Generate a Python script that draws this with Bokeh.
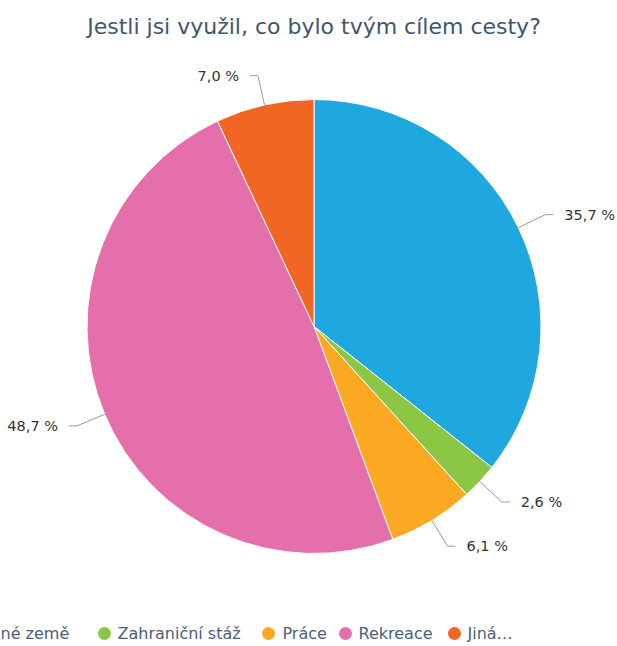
import numpy as np
from bokeh.plotting import figure
from bokeh.models import Range1d, ColumnDataSource
from bokeh.core.properties import value
from bokeh.embed import file_html
from bokeh.resources import INLINE

# ---- data ----
title = "Jestli jsi využil, co bylo tvým cílem cesty?"
categories = ["né země", "Zahraniční stáž", "Práce", "Rekreace", "Jiná…"]
values = [35.7, 2.6, 6.1, 48.7, 7.0]
colors = ["#1fa7e0", "#8bc644", "#fba922", "#e46fab", "#f26624"]

# ---- layout constants (pixels) ----
W, H = 617, 646
CX, CY = 313.5, 320.0
R = 227.0
LABEL_DIST = 30.0
FONT = "DejaVu Sans"

p = figure(width=W, height=H, output_backend="svg", toolbar_location=None,
           x_range=Range1d(0, W), y_range=Range1d(0, H),
           min_border=0, min_border_left=0, min_border_right=0,
           min_border_top=0, min_border_bottom=0)
p.axis.visible = False
p.grid.visible = False
p.outline_line_color = None
p.background_fill_color = "white"
p.border_fill_color = "white"

vals = np.array(values, dtype=float)
frac = vals / vals.sum()
cum_end = np.cumsum(frac)
cum_start = cum_end - frac

src = ColumnDataSource(dict(
    start=np.pi / 2 - 2 * np.pi * cum_end,
    end=np.pi / 2 - 2 * np.pi * cum_start,
    color=colors,
))
p.wedge(x=CX, y=CY, radius=R, start_angle="start", end_angle="end",
        direction="anticlock", fill_color="color", line_color="white",
        line_width=1, source=src)

# ---- data labels with connectors ----
mid = 2 * np.pi * (cum_start + frac / 2)  # clockwise from top
for i, th in enumerate(mid):
    s = 1 if np.sin(th) >= 0 else -1
    ex, ey = CX + R * np.sin(th), CY + R * np.cos(th)
    ax, ay = CX + (R + LABEL_DIST) * np.sin(th), CY + (R + LABEL_DIST) * np.cos(th)
    p.line([ex, ax, ax + s * 8], [ey, ay, ay], line_color="#9a9a9a", line_width=1)
    lab = f"{values[i]:.1f}".replace(".", ",") + " %"
    p.text(x=[ax + s * 19], y=[ay], text=[lab],
           text_font=value(FONT), text_font_size="14.5px", text_color="#333333",
           text_align="left" if s > 0 else "right", text_baseline="middle")

# ---- title ----
p.text(x=[CX], y=[H - 26], text=[title], text_font=value(FONT),
       text_font_size="22px", text_color="#3e576f",
       text_align="center", text_baseline="middle")

# ---- legend (bottom, first item cut off on the left) ----
LEG_Y = 13
dot_x = [None, 104, 268, 345, 454]
txt_x = [0, 117, 282, 358, 467]
for i, cat in enumerate(categories):
    if dot_x[i] is not None:
        p.scatter(x=[dot_x[i]], y=[LEG_Y], size=13, marker="circle",
                  fill_color=colors[i], line_color=None)
    p.text(x=[txt_x[i]], y=[LEG_Y], text=[cat], text_font=value(FONT),
           text_font_size="16px", text_color="#4a6078",
           text_align="left", text_baseline="middle")

open("out.html", "w").write(file_html(p, INLINE))
